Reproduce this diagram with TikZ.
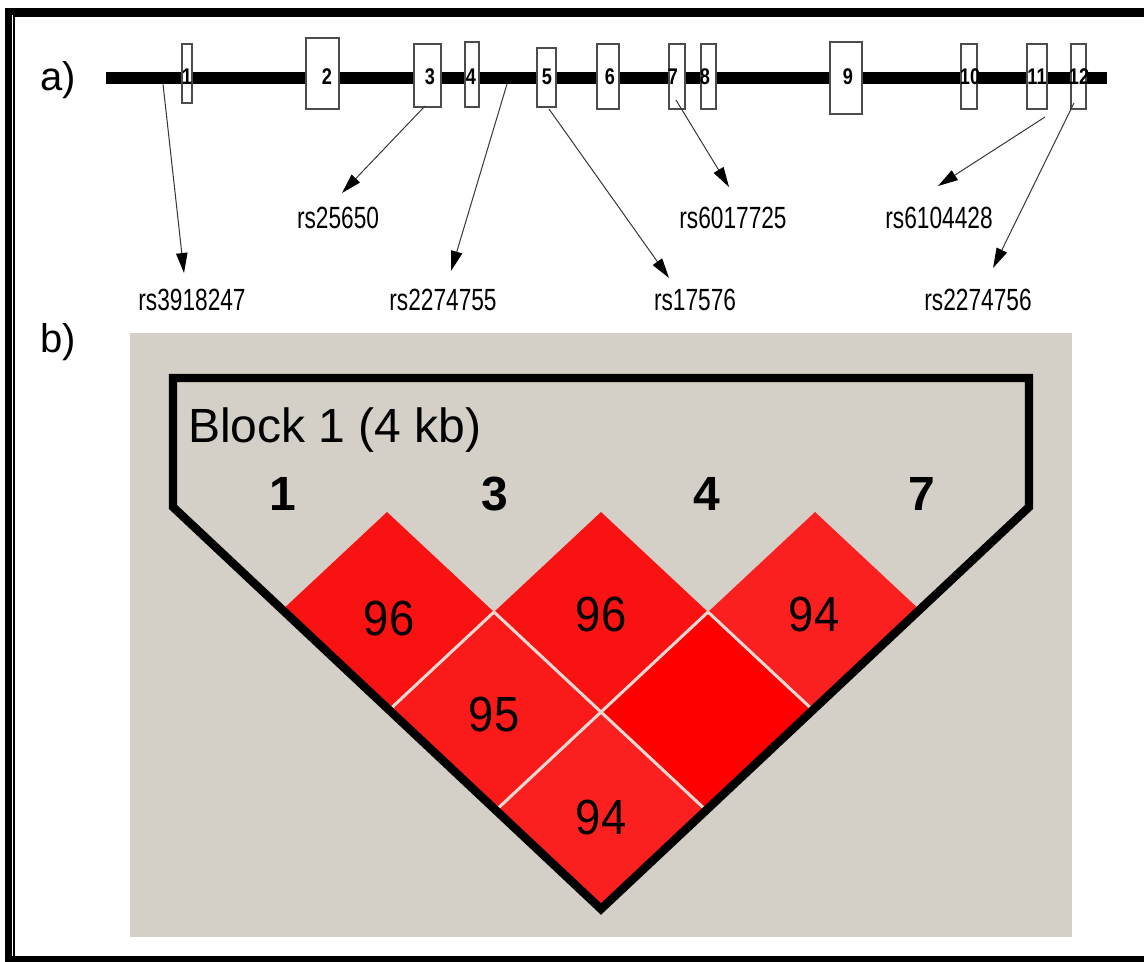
\documentclass[tikz,border=0pt]{standalone}
\usepackage{fontspec}
\setmainfont{Liberation Sans}
\newfontfamily\condfont[FakeStretch=0.74]{Liberation Sans}
\newfontfamily\exfont[FakeStretch=0.8]{Liberation Sans}
\newfontfamily\ldfont[FakeStretch=0.92]{Liberation Sans}
\usetikzlibrary{arrows.meta}
\definecolor{panelgray}{RGB}{212,208,200}
\definecolor{ldfull}{RGB}{255,0,0}
\definecolor{ldA}{RGB}{249,18,18}
\definecolor{ldB}{RGB}{250,26,26}
\definecolor{ldC}{RGB}{250,32,32}
\definecolor{sepline}{RGB}{230,218,210}
\definecolor{wire}{RGB}{55,55,55}

\begin{document}
\begin{tikzpicture}[x=0.75pt,y=-0.75pt,
  exon/.style 2 args={draw=black!70, line width=1pt, fill=white, inner sep=0pt,
    minimum width=#1*0.75pt, minimum height=#2*0.75pt},
  exnum/.style={font=\exfont\bfseries\fontsize{17}{17}\selectfont, inner sep=0pt},
  snplab/.style={font=\condfont\fontsize{23}{23}\selectfont, inner sep=0pt},
  snparrow/.style={draw=wire, line width=0.75pt,
    -{Triangle[length=15pt,width=8.5pt,color=black]}},
  panellab/.style={font=\fontsize{30}{30}\selectfont, inner sep=0pt},
  marker/.style={font=\bfseries\fontsize{36}{36}\selectfont, inner sep=0pt},
  ldval/.style={font=\ldfont\fontsize{37}{37}\selectfont, inner sep=0pt},
  sep/.style={draw=sepline, line width=2.25pt}
]
\useasboundingbox (0,0) rectangle (1144,961);

% double frame, open to the right
\draw[line width=5.25pt] (1144,11) -- (8.5,11) -- (8.5,959.5) -- (1144,959.5);
\draw[line width=1.3pt] (1144,16) -- (14.2,16) -- (14.2,956);

% ---- a) gene structure ----
\node[panellab] (pa) at (58,80) {a)};
\coordinate (g0) at (106,78);
\coordinate (g1) at (1107,78);
\draw[line width=9pt] (g0) -- (g1);

\node[exon={10}{59}] (e1)  at (187,73.5) {};
\node[exon={33}{71}] (e2)  at (322.5,73.5) {};
\node[exon={27}{63}] (e3)  at (427.5,75.5) {};
\node[exon={14}{65}] (e4)  at (472,74.5) {};
\node[exon={19}{59}] (e5)  at (546.5,77.5) {};
\node[exon={22}{65}] (e6)  at (608,76.5) {};
\node[exon={16}{65}] (e7)  at (677,76.5) {};
\node[exon={15}{65}] (e8)  at (708.5,76.5) {};
\node[exon={32}{72}] (e9)  at (846,78) {};
\node[exon={16}{65}] (e10) at (969,76.5) {};
\node[exon={20}{65}] (e11) at (1037,76.5) {};
\node[exon={15}{65}] (e12) at (1078.5,76.5) {};

\node[exnum] (n1)  at (187,77) {1};
\node[exnum] (n2)  at (327,77) {2};
\node[exnum] (n3)  at (430,77) {3};
\node[exnum] (n4)  at (471,77) {4};
\node[exnum] (n5)  at (547,77) {5};
\node[exnum] (n6)  at (610,77) {6};
\node[exnum] (n7)  at (673,77) {7};
\node[exnum] (n8)  at (705,77) {8};
\node[exnum] (n9)  at (848,77) {9};
\node[exnum] (n10) at (970,77) {10};
\node[exnum] (n11) at (1037,77) {11};
\node[exnum] (n12) at (1079,77) {12};

% SNP labels
\node[snplab] (r1) at (192,300) {rs3918247};
\node[snplab] (r2) at (338,218) {rs25650};
\node[snplab] (r3) at (443,300) {rs2274755};
\node[snplab] (r4) at (695,300) {rs17576};
\node[snplab] (r5) at (733,218) {rs6017725};
\node[snplab] (r6) at (939,218) {rs6104428};
\node[snplab] (r7) at (978,300) {rs2274756};

% SNP pointers
\coordinate (s1) at (163,84);    \coordinate (t1) at (184,273);
\coordinate (s2) at (425,106);   \coordinate (t2) at (342,193);
\coordinate (s3) at (507,84);    \coordinate (t3) at (451,271);
\coordinate (s4) at (549,109);   \coordinate (t4) at (669,278);
\coordinate (s5) at (676,100);   \coordinate (t5) at (729,187);
\coordinate (s6) at (1045,117);  \coordinate (t6) at (938,186);
\coordinate (s7) at (1074,103);  \coordinate (t7) at (993,268);
\foreach \i in {1,...,7} \draw[snparrow] (s\i) -- (t\i);

% ---- b) LD block ----
\node[panellab] (pb) at (58,342) {b)};
\fill[panelgray] (130,333) rectangle (1072,937);

% diamonds: half width 107, half height 100
\fill[ldA]    (387,512) -- (494,612) -- (387,712) -- (280,612) -- cycle;
\fill[ldA]    (601,512) -- (708,612) -- (601,712) -- (494,612) -- cycle;
\fill[ldC]    (815,512) -- (922,612) -- (815,712) -- (708,612) -- cycle;
\fill[ldB]    (494,612) -- (601,712) -- (494,812) -- (387,712) -- cycle;
\fill[ldfull] (708,612) -- (815,712) -- (708,812) -- (601,712) -- cycle;
\fill[ldC]    (601,712) -- (708,812) -- (601,912) -- (494,812) -- cycle;

% light seams between neighbouring cells
\draw[sep] (494,612) -- (387,712);
\draw[sep] (708,612) -- (494,812);
\draw[sep] (494,612) -- (708,812);
\draw[sep] (708,612) -- (815,712);

% block outline
\coordinate (b1) at (173,378);
\coordinate (b2) at (1029,378);
\coordinate (b3) at (1029,507);
\coordinate (b4) at (601,909);
\coordinate (b5) at (173,507);
\draw[line width=6.3pt, line join=miter] (b1) -- (b2) -- (b3) -- (b4) -- (b5) -- cycle;

\node[anchor=base west, inner sep=0pt, font=\fontsize{36}{36}\selectfont] (blk) at (188,442) {Block 1 (4 kb)};

\node[marker] (m1) at (283,494) {1};
\node[marker] (m3) at (495,494) {3};
\node[marker] (m4) at (707,494) {4};
\node[marker] (m7) at (922,494) {7};

\node[ldval] (v13) at (389,619) {96};
\node[ldval] (v34) at (601,615) {96};
\node[ldval] (v47) at (814,615) {94};
\node[ldval] (v14) at (494,715) {95};
\node[ldval] (v17) at (601,817) {94};
\end{tikzpicture}
\end{document}
